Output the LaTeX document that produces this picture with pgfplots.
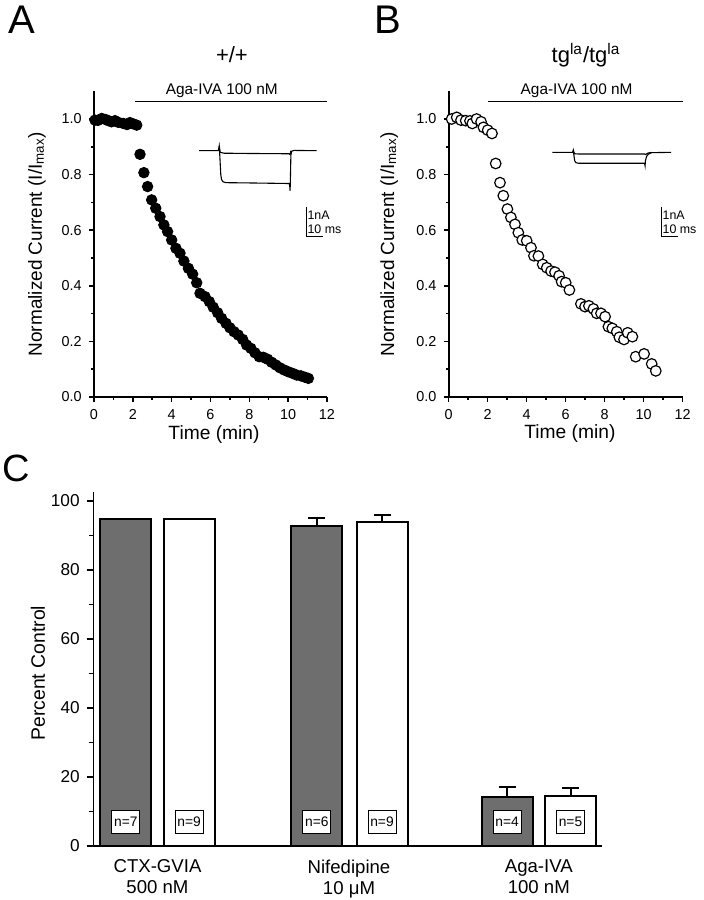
\documentclass[border=0pt]{standalone}
\usepackage{fontspec}
\setmainfont{Liberation Sans}
\usepackage{pgfplots}
\pgfplotsset{compat=1.18}
\definecolor{bargray}{RGB}{110,110,110}
\pgfplotsset{
  panel/.style={
    scale only axis, axis lines=left, axis line style={-, line width=0.8pt},
    tick align=outside, major tick length=2.6pt, minor tick length=1.6pt,
    tick style={line width=0.75pt, black},
    /pgf/number format/assume math mode=true,
    clip=false,
  },
}
\begin{document}
\begin{tikzpicture}
\useasboundingbox (0,0) rectangle (351.5pt,-450pt);
% panel letters
\node[font=\fontsize{20}{22}\selectfont] at (11pt,-10pt) {A};
\node[font=\fontsize{20}{22}\selectfont] at (194pt,-10pt) {B};
\node[font=\fontsize{19}{21}\selectfont] at (8pt,-234pt) {C};

% ---------------- Panel A ----------------
\begin{axis}[panel, at={(47pt,-198.5pt)}, anchor=south west,
  width=116.5pt, height=152.9pt,
  xmin=0, xmax=12, ymin=0, ymax=1.1,
  xtick={0,2,4,6,8,10,12}, ytick={0,0.2,0.4,0.6,0.8,1.0},
  minor x tick num=1, minor y tick num=1,
  tick label style={font=\fontsize{7.2}{8}\selectfont},
  yticklabel style={/pgf/number format/.cd,fixed,fixed zerofill,precision=1},
  xlabel={Time (min)},
  ylabel={Normalized Current (I/I\textsubscript{max})},
  xlabel style={at={(rel axis cs:0.515,-0.124)}, anchor=center, font=\fontsize{9.6}{11}\selectfont},
  ylabel style={at={(rel axis cs:-0.2446,0.5)}, anchor=center, font=\fontsize{9.5}{11}\selectfont},
  title={+/+},
  title style={at={(rel axis cs:0.592,1.079)}, anchor=center, font=\fontsize{11}{13}\selectfont},
]
\addplot[only marks, mark=*, mark size=2.65pt, mark options={fill=black, draw=black}] coordinates {
(0.05,0.996) (0.2,0.995) (0.40,1.002) (0.6,0.998) (0.74,0.994) (0.9,0.99) (1.08,0.994) (1.25,0.988)
(1.51,0.984) (1.7,0.98) (1.85,0.987) (2.0,0.983) (2.20,0.978)
(2.37,0.873) (2.57,0.807) (2.76,0.757) (2.97,0.709) (3.18,0.679) (3.40,0.649) (3.60,0.619)
(3.79,0.595) (4.00,0.565) (4.22,0.535) (4.43,0.517) (4.63,0.489) (4.86,0.463) (5.08,0.442)
(5.29,0.411) (5.46,0.373) (5.72,0.361) (5.94,0.343) (6.14,0.323) (6.37,0.303) (6.57,0.283)
(6.80,0.265) (7.00,0.249) (7.21,0.235) (7.43,0.223) (7.66,0.207) (7.86,0.187) (8.08,0.175)
(8.29,0.159) (8.51,0.145) (8.72,0.143) (8.94,0.136) (9.15,0.125) (9.37,0.115) (9.58,0.105)
(9.80,0.097) (10.00,0.091) (10.23,0.085) (10.44,0.079) (10.66,0.076) (10.87,0.071) (11.04,0.067)
};
% drug application bar
\addplot[black, line width=0.6pt] coordinates {(2.1,1.062) (12,1.062)};
\node[font=\fontsize{7.7}{9}\selectfont] at (axis cs:6.58,1.100) {Aga-IVA 100 nM};
% inset traces
\addplot[black, line width=0.55pt] coordinates {
(5.41,0.886) (6.40,0.886) (6.45,0.903) (6.47,0.88) (6.50,0.84) (6.53,0.80) (6.57,0.782)
(6.65,0.774) (6.8,0.771) (8,0.770) (10.05,0.768) (10.08,0.76) (10.10,0.742) (10.12,0.80)
(10.14,0.87) (10.18,0.884) (10.3,0.887) (11.47,0.886)};
\addplot[black, line width=0.55pt] coordinates {
(6.45,0.903) (6.5,0.880) (6.7,0.877) (8,0.876) (10.05,0.875) (10.1,0.872) (10.14,0.886)};
% scale bars
\addplot[black, line width=0.5pt] coordinates {(10.92,0.685) (10.92,0.579) (11.78,0.579)};
\node[anchor=west, inner sep=0pt, font=\fontsize{6.2}{7}\selectfont] at (axis cs:10.98,0.655) {1nA};
\node[anchor=west, inner sep=0pt, font=\fontsize{6.2}{7}\selectfont] at (axis cs:10.98,0.603) {10 ms};
\end{axis}

% ---------------- Panel B ----------------
\begin{axis}[panel, at={(224.35pt,-198.5pt)}, anchor=south west,
  width=117pt, height=152.9pt,
  xmin=0, xmax=12, ymin=0, ymax=1.1,
  xtick={0,2,4,6,8,10,12}, ytick={0,0.2,0.4,0.6,0.8,1.0},
  minor x tick num=1, minor y tick num=1,
  tick label style={font=\fontsize{7.2}{8}\selectfont},
  yticklabel style={/pgf/number format/.cd,fixed,fixed zerofill,precision=1},
  xlabel={Time (min)},
  ylabel={Normalized Current (I/I\textsubscript{max})},
  xlabel style={at={(rel axis cs:0.518,-0.118)}, anchor=center, font=\fontsize{9.6}{11}\selectfont},
  ylabel style={at={(rel axis cs:-0.254,0.5)}, anchor=center, font=\fontsize{9.5}{11}\selectfont},
  title={tg\textsuperscript{la}/tg\textsuperscript{la}},
  title style={at={(rel axis cs:0.587,1.079)}, anchor=center, font=\fontsize{11}{13}\selectfont},
]
\addplot[only marks, mark=*, mark size=2.65pt, mark options={fill=white, draw=black, line width=0.6pt}] coordinates {
(0.15,1.0) (0.41,1.006) (0.63,0.996) (0.87,0.994) (1.09,0.993) (1.21,0.984) (1.43,1.0)
(1.66,0.99) (1.78,0.97) (2.0,0.96) (2.22,0.948)
(2.41,0.840) (2.63,0.771) (2.80,0.724) (3.01,0.676) (3.19,0.646) (3.40,0.621) (3.57,0.591)
(3.77,0.565) (4.00,0.562) (4.22,0.537) (4.37,0.508) (4.60,0.507) (4.82,0.477) (5.03,0.465)
(5.25,0.453) (5.45,0.449) (5.66,0.436) (5.79,0.415) (6.00,0.411) (6.19,0.385)
(6.78,0.335) (6.99,0.325) (7.19,0.328) (7.42,0.317) (7.59,0.301) (7.81,0.301) (8.02,0.289)
(8.19,0.253) (8.39,0.247) (8.62,0.235) (8.75,0.215) (8.99,0.207) (9.18,0.231) (9.42,0.217)
(9.59,0.145) (10.02,0.155) (10.41,0.119) (10.62,0.094)
};
\addplot[black, line width=0.6pt] coordinates {(2.03,1.062) (12,1.062)};
\node[font=\fontsize{7.7}{9}\selectfont] at (axis cs:6.56,1.100) {Aga-IVA 100 nM};
\addplot[black, line width=0.55pt] coordinates {
(5.31,0.880) (6.35,0.880) (6.39,0.888) (6.42,0.870) (6.46,0.850) (6.52,0.843) (6.65,0.841)
(8,0.841) (10.03,0.841) (10.06,0.836) (10.07,0.832) (10.09,0.850) (10.15,0.866) (10.25,0.874)
(10.41,0.879) (11.4,0.880)};
\addplot[black, line width=0.55pt] coordinates {
(6.39,0.888) (6.45,0.875) (6.7,0.874) (8,0.874) (10.05,0.874) (10.1,0.872) (10.2,0.877) (10.4,0.880)};
\addplot[black, line width=0.5pt] coordinates {(10.89,0.685) (10.89,0.579) (11.75,0.579)};
\node[anchor=west, inner sep=0pt, font=\fontsize{6.2}{7}\selectfont] at (axis cs:10.95,0.655) {1nA};
\node[anchor=west, inner sep=0pt, font=\fontsize{6.2}{7}\selectfont] at (axis cs:10.95,0.603) {10 ms};
\end{axis}

% ---------------- Panel C ----------------
\begin{axis}[panel, at={(46.65pt,-423pt)}, anchor=south west,
  width=254.2pt, height=176.8pt,
  xmin=93.3, xmax=601.7, ymin=0, ymax=102.5,
  major tick length=3.3pt, minor tick length=2pt,
  ytick={0,20,40,60,80,100}, minor y tick num=1,
  xtick={157.5,349,538.8},
  xticklabels={{CTX-GVIA\\500 nM},{Nifedipine\\10 μM},{Aga-IVA\\100 nM}},
  x tick style={draw=none},
  tick label style={font=\fontsize{8.6}{10.5}\selectfont},
  xticklabel style={align=center, font=\fontsize{9.3}{10.5}\selectfont},
  ylabel={Percent Control},
  ylabel style={at={(rel axis cs:-0.109,0.489)}, anchor=center, font=\fontsize{9.7}{11}\selectfont},
]
\addplot[ybar, bar width=51, bar shift=0pt, fill=bargray, draw=black, line width=1pt] coordinates {(125.9,94.9)};
\addplot[ybar, bar width=51, bar shift=0pt, fill=white, draw=black, line width=1pt] coordinates {(189.2,94.9)};
\addplot[ybar, bar width=51, bar shift=0pt, fill=bargray, draw=black, line width=1pt,
  error bars/.cd, y dir=plus, y explicit,
  error bar style={line width=1pt, black},
  error mark options={rotate=90, mark size=4.25pt, line width=1pt, black}]
  coordinates {(316.9,92.7) +- (0,2.5) (507.2,14.1) +- (0,3.0)};
\addplot[ybar, bar width=51, bar shift=0pt, fill=white, draw=black, line width=1pt,
  error bars/.cd, y dir=plus, y explicit,
  error bar style={line width=1pt, black},
  error mark options={rotate=90, mark size=4.25pt, line width=1pt, black}]
  coordinates {(382.0,93.9) +- (0,2.1) (570.5,14.4) +- (0,2.4)};
\tikzset{nbox/.style={draw=black, fill=white, line width=0.5pt, minimum width=14pt, minimum height=11.5pt, inner sep=0pt, font=\fontsize{6.9}{8}\selectfont}}
\node[nbox] at (axis cs:125.9,7) {n=7};
\node[nbox] at (axis cs:189.2,7) {n=9};
\node[nbox] at (axis cs:316.9,7) {n=6};
\node[nbox] at (axis cs:382.0,7) {n=9};
\node[nbox] at (axis cs:507.2,7) {n=4};
\node[nbox] at (axis cs:570.5,7) {n=5};
\end{axis}
\end{tikzpicture}
\end{document}
